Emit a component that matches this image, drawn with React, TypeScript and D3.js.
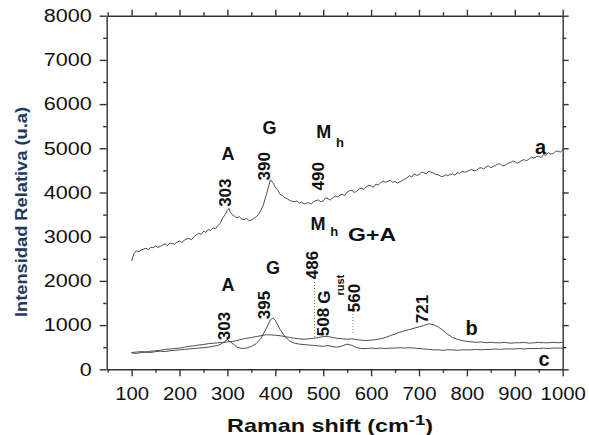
import React, { useRef, useEffect } from "react";
import * as d3 from "d3";

// Raman spectra: [shift cm-1, intensity]
const seriesA: [number, number][] = [
  [100, 2450], [105, 2620], [110, 2680], [115, 2660], [120, 2700], [125, 2720],
  [130, 2740], [135, 2710], [140, 2760], [145, 2750], [150, 2790], [155, 2760],
  [160, 2780], [165, 2810], [170, 2840], [175, 2800], [180, 2860], [185, 2840],
  [190, 2830], [195, 2880], [200, 2900], [205, 2870], [210, 2920], [215, 2950],
  [220, 2960], [225, 2930], [230, 3000], [235, 3040], [240, 3080], [245, 3050],
  [250, 3120], [255, 3100], [260, 3160], [265, 3140], [270, 3200], [275, 3180],
  [280, 3250], [285, 3300], [290, 3420], [295, 3500], [300, 3600], [303, 3640],
  [306, 3560], [310, 3500], [315, 3460], [320, 3430], [325, 3450], [330, 3400],
  [335, 3380], [340, 3420], [345, 3360], [350, 3380], [355, 3410], [360, 3450],
  [365, 3500], [370, 3600], [375, 3720], [380, 3900], [385, 4100], [390, 4290],
  [395, 4220], [400, 4120], [405, 4060], [410, 3960], [415, 3930], [420, 3880],
  [425, 3860], [430, 3820], [435, 3800], [440, 3790], [445, 3810], [450, 3760],
  [455, 3780], [460, 3740], [465, 3760], [470, 3770], [475, 3740], [480, 3790],
  [485, 3820], [490, 3830], [495, 3790], [500, 3810], [505, 3880], [510, 3860],
  [515, 3830], [520, 3880], [525, 3920], [530, 3900], [535, 3940], [540, 3960],
  [545, 3930], [550, 4010], [555, 4040], [560, 4050], [565, 4000], [570, 4030],
  [575, 4080], [580, 4100], [585, 4070], [590, 4130], [595, 4160], [600, 4150],
  [605, 4120], [610, 4190], [615, 4170], [620, 4220], [625, 4260], [630, 4230],
  [635, 4250], [640, 4280], [645, 4230], [650, 4250], [655, 4210], [660, 4240],
  [665, 4270], [670, 4300], [675, 4330], [680, 4380], [685, 4350], [690, 4420],
  [695, 4390], [700, 4400], [705, 4460], [710, 4450], [715, 4420], [720, 4480],
  [725, 4460], [730, 4440], [735, 4410], [740, 4400], [745, 4370], [750, 4360],
  [755, 4400], [760, 4380], [765, 4410], [770, 4420], [775, 4390], [780, 4450],
  [785, 4430], [790, 4480], [795, 4460], [800, 4470], [805, 4500], [810, 4520],
  [815, 4490], [820, 4500], [825, 4550], [830, 4560], [835, 4530], [840, 4580],
  [845, 4600], [850, 4560], [855, 4590], [860, 4610], [865, 4650], [870, 4640],
  [875, 4600], [880, 4620], [885, 4660], [890, 4670], [895, 4710], [900, 4700],
  [905, 4660], [910, 4690], [915, 4730], [920, 4740], [925, 4720], [930, 4760],
  [935, 4800], [940, 4780], [945, 4810], [950, 4820], [955, 4790], [960, 4860],
  [965, 4840], [970, 4900], [975, 4870], [980, 4880], [985, 4930], [990, 4940],
  [995, 4910], [1000, 4970],
];

const seriesB: [number, number][] = [
  [100, 380], [110, 390], [120, 400], [130, 390], [140, 410], [150, 420],
  [160, 430], [170, 450], [180, 460], [190, 470], [200, 480], [210, 500],
  [220, 520], [230, 530], [240, 550], [250, 560], [260, 580], [270, 590],
  [280, 600], [290, 610], [300, 620], [310, 630], [320, 650], [330, 680],
  [340, 700], [350, 720], [360, 740], [370, 760], [380, 780], [390, 780],
  [400, 770], [410, 760], [420, 740], [430, 720], [440, 700], [450, 690],
  [460, 680], [470, 690], [480, 700], [490, 720], [500, 740], [510, 740],
  [520, 720], [530, 700], [540, 690], [550, 680], [560, 690], [570, 670],
  [580, 660], [590, 650], [600, 660], [610, 670], [620, 690], [630, 720],
  [640, 760], [650, 800], [660, 840], [670, 870], [680, 900], [690, 930],
  [700, 960], [710, 990], [720, 1030], [730, 1010], [740, 960], [750, 880],
  [760, 790], [770, 720], [780, 680], [790, 650], [800, 630], [810, 620],
  [820, 610], [830, 620], [840, 600], [850, 610], [860, 600], [870, 600],
  [880, 610], [890, 590], [900, 600], [910, 600], [920, 610], [930, 590],
  [940, 600], [950, 610], [960, 600], [970, 600], [980, 610], [990, 600],
  [1000, 610],
];

const seriesC: [number, number][] = [
  [100, 370], [110, 360], [120, 380], [130, 390], [140, 380], [150, 400],
  [160, 410], [170, 400], [180, 420], [190, 430], [200, 440], [210, 450],
  [220, 460], [230, 470], [240, 480], [250, 490], [260, 500], [270, 520],
  [280, 540], [290, 590], [300, 670], [310, 590], [320, 500], [330, 470],
  [340, 480], [350, 520], [360, 580], [370, 700], [380, 900], [390, 1120],
  [395, 1160], [400, 1110], [410, 900], [420, 740], [430, 640], [440, 590],
  [450, 570], [460, 560], [470, 550], [480, 540], [490, 530], [500, 520],
  [510, 540], [520, 510], [530, 500], [540, 530], [550, 570], [560, 540],
  [570, 490], [580, 470], [590, 470], [600, 480], [610, 470], [620, 480],
  [630, 470], [640, 480], [650, 480], [660, 490], [670, 480], [680, 490],
  [690, 480], [700, 470], [710, 460], [720, 450], [730, 440], [740, 440],
  [750, 430], [760, 440], [770, 440], [780, 430], [790, 440], [800, 440],
  [810, 440], [820, 450], [830, 440], [840, 450], [850, 450], [860, 460],
  [870, 450], [880, 460], [890, 460], [900, 460], [910, 470], [920, 460],
  [930, 470], [940, 470], [950, 470], [960, 480], [970, 470], [980, 480],
  [990, 480], [1000, 480],
];

const xTicks = [100, 200, 300, 400, 500, 600, 700, 800, 900, 1000];
const xMinorTicks = [50, 150, 250, 350, 450, 550, 650, 750, 850, 950];
const yTicks = [0, 1000, 2000, 3000, 4000, 5000, 6000, 7000, 8000];
const yMinorTicks = [500, 1500, 2500, 3500, 4500, 5500, 6500, 7500];

// peak annotations: label, shift, intensity, rotated?, font size
const annotations: [string, number, number, boolean, number][] = [
  ["A", 301, 4878, false, 18],
  ["G", 388, 5466, false, 18],
  ["M", 501, 5375, false, 18],
  ["h", 535, 5137, false, 13],
  ["303", 295, 3996, true, 17],
  ["390", 378, 4595, true, 17],
  ["490", 490, 4369, true, 17],
  ["a", 954, 5025, false, 20],
  ["M", 489, 3284, false, 18],
  ["h", 523, 3126, false, 13],
  ["A", 301, 1905, false, 18],
  ["G", 395, 2290, false, 18],
  ["486", 478, 2358, true, 17],
  ["G", 503, 1635, true, 17],
  ["rust", 535, 1905, true, 11],
  ["508", 501, 1069, true, 17],
  ["560", 566, 1612, true, 17],
  ["303", 293, 979, true, 17],
  ["395", 378, 1453, true, 17],
  ["721", 708, 1363, true, 17],
  ["b", 810, 934, false, 20],
  ["c", 961, 233, false, 20],
];

const dottedMarks: [number, number, number][] = [
  [482, 730, 2020],
  [562, 820, 1410],
];

const font = "'Liberation Sans', Arial, sans-serif";

export default function App() {
  const svgRef = useRef<SVGSVGElement>(null);

  useEffect(() => {
    const svg = d3.select(svgRef.current);
    svg.selectAll("*").remove();

    const x = d3.scaleLinear().domain([48, 1000]).range([106.7, 562.7]);
    const y = d3.scaleLinear().domain([0, 8000]).range([369.3, 15.7]);
    const axisColor = "#333";
    const fmt = d3.format("d");

    function styleAxis(g) {
      g.selectAll("path").attr("stroke", axisColor).attr("stroke-width", 1.4);
      g.selectAll("line").attr("stroke", axisColor).attr("stroke-width", 1.4);
      g.attr("font-family", font).attr("font-size", 18);
      g.selectAll("text").attr("fill", "#111");
    }

    // minor ticks first (no labels)
    const minorSpecs = [
      [d3.axisBottom(x).tickValues(xMinorTicks), `translate(0,${y(0)})`],
      [d3.axisTop(x).tickValues(xMinorTicks), `translate(0,${y(8000)})`],
      [d3.axisLeft(y).tickValues(yMinorTicks), `translate(${x(48)},0)`],
      [d3.axisRight(y).tickValues(yMinorTicks), `translate(${x(1000)},0)`],
    ] as const;
    minorSpecs.forEach(([ax, tr]) => {
      const g = svg
        .append("g")
        .attr("transform", tr)
        .call(ax.tickSize(3.5).tickSizeOuter(0).tickFormat(() => ""));
      g.select(".domain").remove();
      styleAxis(g);
    });

    const bottom = svg
      .append("g")
      .attr("transform", `translate(0,${y(0)})`)
      .call(
        d3.axisBottom(x).tickValues(xTicks).tickFormat(fmt).tickSize(7).tickSizeOuter(0).tickPadding(10.5)
      );
    styleAxis(bottom);
    bottom
      .selectAll("text")
      .attr("textLength", (d) => String(d).length * 11.3)
      .attr("lengthAdjust", "spacingAndGlyphs");

    const top = svg
      .append("g")
      .attr("transform", `translate(0,${y(8000)})`)
      .call(d3.axisTop(x).tickValues(xTicks).tickSize(6).tickSizeOuter(0).tickFormat(() => ""));
    styleAxis(top);

    const left = svg
      .append("g")
      .attr("transform", `translate(${x(48)},0)`)
      .call(d3.axisLeft(y).tickValues(yTicks).tickFormat(fmt).tickSize(7).tickSizeOuter(0).tickPadding(8));
    styleAxis(left);
    left
      .selectAll("text")
      .attr("textLength", (d) => String(d).length * 12)
      .attr("lengthAdjust", "spacingAndGlyphs");

    const right = svg
      .append("g")
      .attr("transform", `translate(${x(1000)},0)`)
      .call(d3.axisRight(y).tickValues(yTicks).tickSize(6).tickSizeOuter(0).tickFormat(() => ""));
    styleAxis(right);

    // spectra
    const line = d3
      .line<[number, number]>()
      .x((d) => x(d[0]))
      .y((d) => y(d[1]));
    [seriesA, seriesB, seriesC].forEach((s) => {
      svg
        .append("path")
        .datum(s)
        .attr("d", line)
        .attr("fill", "none")
        .attr("stroke", "#3a3a3a")
        .attr("stroke-width", 0.9);
    });

    // dotted guides
    svg
      .selectAll(".guide")
      .data(dottedMarks)
      .enter()
      .append("line")
      .attr("class", "guide")
      .attr("x1", (d) => x(d[0]))
      .attr("x2", (d) => x(d[0]))
      .attr("y1", (d) => y(d[1]))
      .attr("y2", (d) => y(d[2]))
      .attr("stroke", "#777")
      .attr("stroke-width", 1)
      .attr("stroke-dasharray", "1,2");

    // annotations
    svg
      .selectAll(".note")
      .data(annotations)
      .enter()
      .append("text")
      .attr("class", "note")
      .attr("transform", (d) => `translate(${x(d[1])},${y(d[2])})${d[3] ? " rotate(-90)" : ""}`)
      .attr("text-anchor", "middle")
      .attr("dominant-baseline", "central")
      .attr("font-family", font)
      .attr("font-weight", "bold")
      .attr("font-size", (d) => d[4])
      .attr("fill", "#111")
      .text((d) => d[0]);

    svg
      .append("text")
      .attr("transform", `translate(${x(602)},${y(3036)})`)
      .attr("text-anchor", "middle")
      .attr("dominant-baseline", "central")
      .attr("font-family", font)
      .attr("font-weight", "bold")
      .attr("font-size", 18)
      .attr("textLength", 48)
      .attr("lengthAdjust", "spacingAndGlyphs")
      .attr("fill", "#111")
      .text("G+A");

    // axis titles
    const xt = svg
      .append("text")
      .attr("transform", "translate(330,432) scale(1.23,1)")
      .attr("text-anchor", "middle")
      .attr("font-family", font)
      .attr("font-weight", "bold")
      .attr("font-size", 19)
      .attr("fill", "#111");
    xt.append("tspan").text("Raman shift (cm");
    xt.append("tspan").attr("dy", -7).attr("font-size", 15).text("-1");
    xt.append("tspan").attr("dy", 7).text(")");

    svg
      .append("text")
      .attr("transform", "translate(21,212) rotate(-90)")
      .attr("text-anchor", "middle")
      .attr("dominant-baseline", "central")
      .attr("font-family", font)
      .attr("font-weight", "bold")
      .attr("font-size", 17)
      .attr("textLength", 210)
      .attr("lengthAdjust", "spacingAndGlyphs")
      .attr("fill", "#1f3864")
      .text("Intensidad Relativa (u.a)");
  }, []);

  return (
    <svg
      ref={svgRef}
      width={589}
      height={435}
      style={{ position: "absolute", left: 0, top: 0, background: "#fff" }}
    />
  );
}
